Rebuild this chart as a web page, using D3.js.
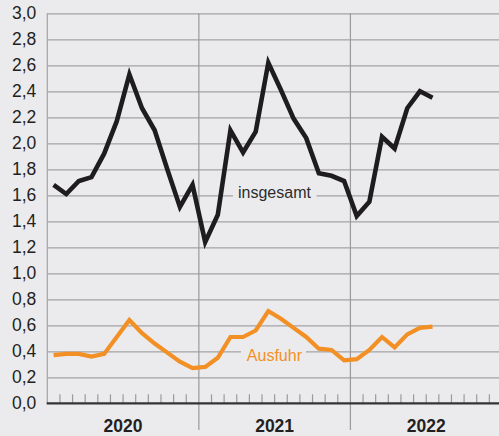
<!DOCTYPE html>
<html>
<head>
<meta charset="utf-8">
<script src="https://cdn.jsdelivr.net/npm/d3@7/dist/d3.min.js"></script>
<style>
  html, body { margin: 0; padding: 0; background: #ebebed; overflow: hidden; }
  svg { display: block; font-family: "Liberation Sans", Arial, sans-serif; }
</style>
</head>
<body>
<div id="chart"></div>
<script>
// monthly values, Jan 2020 .. Jul 2022
const insgesamt = [1.68, 1.61, 1.71, 1.74, 1.92, 2.17, 2.53, 2.27, 2.10, 1.80, 1.51, 1.68,
                   1.24, 1.45, 2.10, 1.93, 2.09, 2.62, 2.41, 2.19, 2.04, 1.77, 1.75, 1.71,
                   1.44, 1.55, 2.05, 1.96, 2.27, 2.40, 2.35];
const ausfuhr   = [0.37, 0.38, 0.38, 0.36, 0.38, 0.51, 0.64, 0.54, 0.46, 0.39, 0.32, 0.27,
                   0.28, 0.35, 0.51, 0.51, 0.56, 0.71, 0.65, 0.58, 0.51, 0.42, 0.41, 0.33,
                   0.34, 0.41, 0.51, 0.43, 0.53, 0.58, 0.59];
const years = ["2020", "2021", "2022"];
const yTicks = [0, 0.2, 0.4, 0.6, 0.8, 1.0, 1.2, 1.4, 1.6, 1.8, 2.0, 2.2, 2.4, 2.6, 2.8, 3.0];

const W = 499, H = 436;
const bg = "#ebebed";
const left = 47.3, monthW = 12.63;

const x = d3.scaleLinear().domain([0, 36]).range([left, left + 36 * monthW]);
const y = d3.scaleLinear().domain([0, 3]).range([403.3, 13.3]);

const svg = d3.select("#chart").append("svg")
    .attr("width", W).attr("height", H);

svg.append("rect").attr("width", W).attr("height", H).attr("fill", bg);

// horizontal gridlines
const grid = svg.append("g")
    .attr("transform", "translate(" + left + ",0)")
    .call(d3.axisRight(y).tickValues(yTicks.filter(d => d > 0)).tickSize(W - left).tickFormat(""));
grid.select(".domain").remove();
grid.selectAll("line").attr("stroke", "#a3a3a5").attr("stroke-width", 1.2);

// y labels
const ya = svg.append("g")
    .attr("transform", "translate(" + left + ",0)")
    .call(d3.axisLeft(y).tickValues(yTicks).tickSize(0).tickPadding(11)
      .tickFormat(d => d3.format(".1f")(d).replace(".", ",")));
ya.select(".domain").remove();
ya.selectAll("text").attr("font-size", 17.5).attr("fill", "#231f20")
  .attr("font-family", "'Liberation Sans', Arial, sans-serif");

// left border
svg.append("line")
    .attr("x1", left).attr("x2", left).attr("y1", y(3)).attr("y2", y(0))
    .attr("stroke", "#a3a3a5").attr("stroke-width", 1.2);

// month ticks
const months = d3.range(1, 36).filter(m => m % 12 !== 0);
svg.append("g").selectAll("line").data(months).join("line")
    .attr("x1", d => x(d)).attr("x2", d => x(d))
    .attr("y1", y(0) - 9).attr("y2", y(0))
    .attr("stroke", "#9a9a9c").attr("stroke-width", 1.2);

// year dividers
svg.append("g").selectAll("line").data([12, 24]).join("line")
    .attr("x1", d => x(d)).attr("x2", d => x(d))
    .attr("y1", y(3)).attr("y2", 430)
    .attr("stroke", "#9a9a9c").attr("stroke-width", 1.2);

// x axis baseline
svg.append("line")
    .attr("x1", left - 0.6).attr("x2", W).attr("y1", y(0)).attr("y2", y(0))
    .attr("stroke", "#333335").attr("stroke-width", 2.2);

// year labels
svg.append("g").selectAll("text").data(years).join("text")
    .attr("x", (d, i) => x(i * 12 + 6))
    .attr("y", 431.5)
    .attr("text-anchor", "middle")
    .attr("font-size", 17.5).attr("font-weight", "bold").attr("fill", "#231f20")
    .text(d => d);

// series labels with background gap in gridline
function seriesLabel(txt, mx, base, gapL, gapR, color) {
  svg.append("rect")
      .attr("x", gapL).attr("y", base - 16).attr("width", gapR - gapL).attr("height", 20)
      .attr("fill", bg);
  svg.append("text")
      .attr("x", x(mx)).attr("y", base)
      .attr("font-size", 16).attr("fill", color)
      .text(txt);
}
seriesLabel("insgesamt", 15.1, y(1.6) + 3, 233, 316.5, "#2b2b2d");
seriesLabel("Ausfuhr", 15.8, y(0.4) + 9.8, 241, 306, "#f39025");

// lines
const line = d3.line()
    .x((d, i) => x(i + 0.5))
    .y(d => y(d));

svg.append("path").datum(ausfuhr)
    .attr("d", line)
    .attr("fill", "none").attr("stroke", "#f39025")
    .attr("stroke-width", 4.2).attr("stroke-linejoin", "miter");

svg.append("path").datum(insgesamt)
    .attr("d", line)
    .attr("fill", "none").attr("stroke", "#1f1c1d")
    .attr("stroke-width", 4.6).attr("stroke-linejoin", "miter").attr("stroke-miterlimit", 10);
</script>
</body>
</html>
